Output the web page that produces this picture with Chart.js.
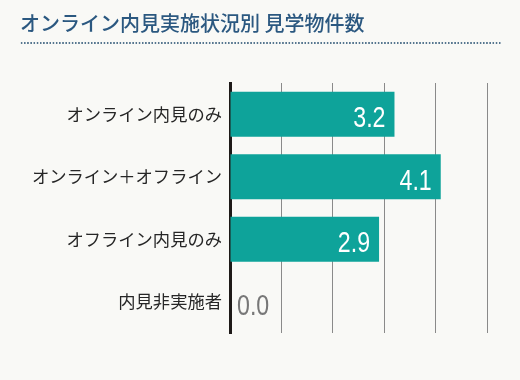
<!DOCTYPE html>
<html><head><meta charset="utf-8">
<script src="https://cdn.jsdelivr.net/npm/chart.js@4"></script>
<style>
html,body{margin:0;padding:0;background:#f9f9f6;}
#wrap{position:relative;width:520px;height:380px;}
#title{position:absolute;left:20px;top:9px;width:480px;font-family:"Noto Sans CJK JP";font-weight:500;font-size:20px;color:#2b5880;line-height:28px;padding-bottom:6px;}
#dots{position:absolute;left:20px;top:42px;width:481px;height:2px;background-image:radial-gradient(circle, #56768f 0.9px, transparent 1.1px);background-size:3.2px 2px;background-repeat:repeat-x;}
canvas{position:absolute;left:0;top:0;}
</style></head>
<body><div id="wrap"><canvas id="c" width="520" height="380"></canvas><div id="title">オンライン内見実施状況別 見学物件数</div><div id="dots"></div></div>
<script>
const categories = ["オンライン内見のみ", "オンライン＋オフライン", "オフライン内見のみ", "内見非実施者"];
const values = [3.2, 4.1, 2.9, 0.0];
const xTicks = [0, 1, 2, 3, 4, 5];

const valueLabels = {
  id: 'valueLabels',
  afterDatasetsDraw(chart) {
    const ctx = chart.ctx;
    const meta = chart.getDatasetMeta(0);
    const sx = 0.8;
    meta.data.forEach((bar, i) => {
      const v = values[i];
      const txt = v.toFixed(1);
      const y = bar.y + 13;
      ctx.save();
      ctx.font = '29px "Liberation Sans", sans-serif';
      ctx.textBaseline = 'alphabetic';
      if (v > 0.5) {
        ctx.fillStyle = '#ffffff';
        ctx.textAlign = 'right';
        ctx.translate(bar.x - 9, y);
      } else {
        ctx.fillStyle = '#777777';
        ctx.textAlign = 'left';
        ctx.translate(bar.base + 7, y);
      }
      ctx.scale(sx, 1);
      ctx.fillText(txt, 0, 0);
      ctx.restore();
    });
  }
};

new Chart(document.getElementById('c'), {
  type: 'bar',
  data: {
    labels: categories,
    datasets: [{
      data: values,
      backgroundColor: '#0ea39a',
      borderWidth: 0,
      categoryPercentage: 0.72,
      barPercentage: 1.0
    }]
  },
  options: {
    indexAxis: 'y',
    responsive: false,
    animation: false,
    layout: { padding: { top: 83, bottom: 47, right: 33, left: 0 } },
    plugins: { legend: { display: false }, tooltip: { enabled: false }, title: { display: false } },
    scales: {
      x: {
        min: xTicks[0], max: xTicks[xTicks.length - 1],
        afterBuildTicks(scale) { scale.ticks = xTicks.map(v => ({ value: v })); },
        ticks: { display: false },
        grid: { color: '#8a8a8a', lineWidth: 1, drawTicks: false },
        border: { display: false }
      },
      y: {
        afterFit(scale) { scale.width = 230; },
        grid: { display: false, drawTicks: false },
        border: { display: true, color: '#1e1a18', width: 3 },
        ticks: { color: '#262626', padding: 8, font: { family: '"Noto Sans CJK JP"', size: 17.3 } }
      }
    }
  },
  plugins: [valueLabels]
});
</script>
</body></html>
